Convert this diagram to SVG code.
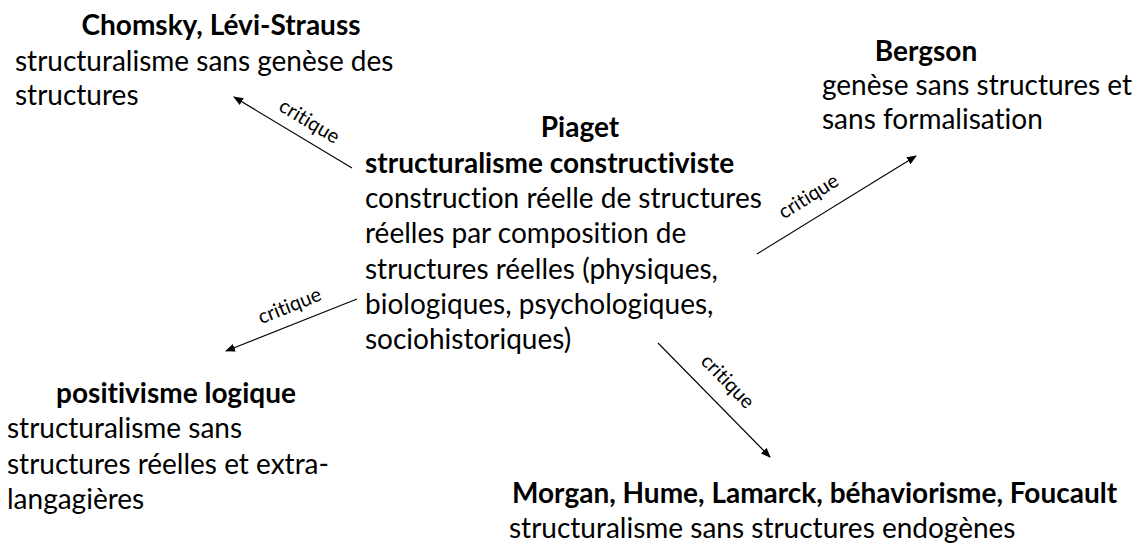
<svg xmlns="http://www.w3.org/2000/svg" width="1139" height="554" viewBox="0 0 1139 554">
<defs>
<style>
text{font-family:Lato,"Open Sans","Liberation Sans",sans-serif;fill:#000;font-variant-ligatures:none;font-feature-settings:"liga" 0,"dlig" 0;}
.t{font-size:28px;}
.b{font-size:28px;font-weight:bold;}
.m{text-anchor:middle;}
.lbl{font-size:20px;text-anchor:middle;}
.c{stroke:#000;stroke-width:1.1;fill:none;marker-end:url(#ah);}
</style>
<marker id="ah" viewBox="0 0 10 10" refX="9" refY="5" markerWidth="10" markerHeight="10" markerUnits="userSpaceOnUse" orient="auto">
<path d="M0,1 L10,5 L0,9 Z" fill="#000"/>
</marker>
</defs>
<rect width="1139" height="554" fill="#fff"/>
<g id="connectors">
<line class="c" x1="352" y1="168" x2="234" y2="97"/>
<line class="c" x1="757" y1="254" x2="916" y2="156"/>
<line class="c" x1="357" y1="299" x2="226" y2="351"/>
<line class="c" x1="658" y1="343" x2="770" y2="457"/>
<text class="lbl" transform="translate(306,127) rotate(31)">critique</text>
<text class="lbl" transform="translate(812,202) rotate(-32)">critique</text>
<text class="lbl" transform="translate(292,312) rotate(-21.8)">critique</text>
<text class="lbl" transform="translate(723,386) rotate(45.8)">critique</text>
</g>
<g id="chomsky">
<text class="b m" x="221" y="35">Chomsky, Lévi-Strauss</text>
<text class="t" x="15" y="71">structuralisme sans genèse des</text>
<text class="t" x="15" y="105">structures</text>
</g>
<g id="bergson">
<text class="b m" x="926" y="61">Bergson</text>
<text class="t" x="822" y="95">genèse sans structures et</text>
<text class="t" x="822" y="129">sans formalisation</text>
</g>
<g id="piaget">
<text class="b m" x="580" y="137">Piaget</text>
<text class="b" x="365" y="173">structuralisme constructiviste</text>
<text class="t" x="365" y="208">construction réelle de structures</text>
<text class="t" x="365" y="243">réelles par composition de</text>
<text class="t" x="365" y="279">structures réelles (physiques,</text>
<text class="t" x="365" y="314">biologiques, psychologiques,</text>
<text class="t" x="365" y="349">sociohistoriques)</text>
</g>
<g id="positivisme">
<text class="b m" x="176" y="403">positivisme logique</text>
<text class="t" x="7" y="438">structuralisme sans</text>
<text class="t" x="7" y="474">structures réelles et extra-</text>
<text class="t" x="7" y="509">langagières</text>
</g>
<g id="morgan">
<text class="b" x="512" y="503">Morgan, Hume, Lamarck, béhaviorisme, Foucault</text>
<text class="t" x="509" y="538">structuralisme sans structures endogènes</text>
</g>
</svg>
